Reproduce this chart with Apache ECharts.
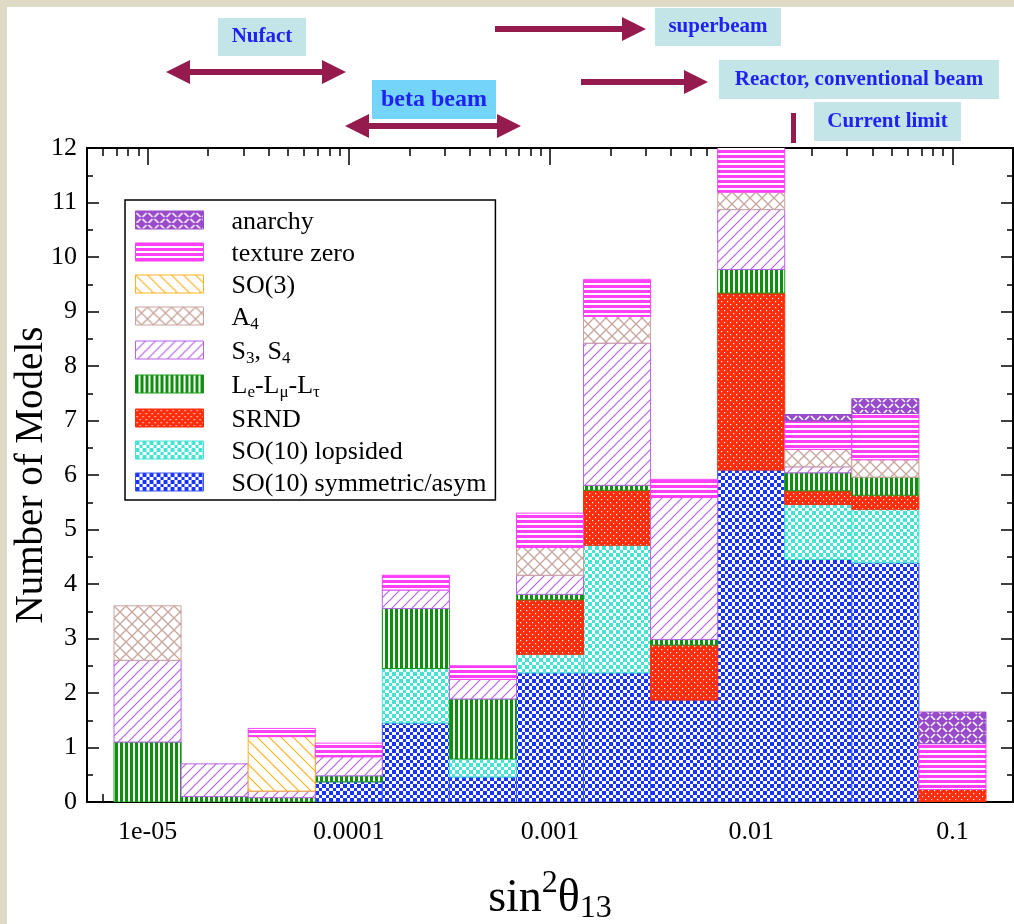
<!DOCTYPE html>
<html>
<head>
<meta charset="utf-8">
<script src="https://cdn.jsdelivr.net/npm/echarts@6/dist/echarts.min.js"></script>
<style>
html, body { margin: 0; padding: 0; background: #fff; }
#chart { width: 1014px; height: 924px; }
</style>
</head>
<body>
<div id="chart"></div>
<script>
// bin centres as log10(sin^2 theta13), each bin is a third of a decade wide
const binCenters = [-15 / 3, -14 / 3, -13 / 3, -12 / 3, -11 / 3, -10 / 3, -9 / 3, -8 / 3, -7 / 3, -6 / 3, -5 / 3, -4 / 3, -3 / 3];
const binHalfWidth = 1 / 6;

// number of models per bin, one array per class (bottom of the stack first)
const so10Sym      = [0, 0, 0, 0.37, 1.45, 0.46, 2.37, 2.37, 1.87, 6.09, 4.45, 4.39, 0];
const so10Lops     = [0, 0, 0, 0, 1.0, 0.33, 0.34, 2.34, 0, 0, 1.01, 0.98, 0];
const srnd         = [0, 0, 0, 0, 0, 0, 1.0, 1.01, 1.01, 3.25, 0.25, 0.26, 0.23];
const leLmuLtau    = [1.1, 0.1, 0.08, 0.11, 1.1, 1.1, 0.1, 0.09, 0.1, 0.43, 0.33, 0.33, 0];
const s3s4         = [1.5, 0.6, 0.12, 0.35, 0.34, 0.36, 0.35, 2.61, 2.61, 1.1, 0.11, 0, 0];
const a4           = [1.0, 0, 0, 0, 0, 0, 0.51, 0.49, 0, 0.32, 0.32, 0.32, 0];
const so3          = [0, 0, 1.0, 0, 0, 0, 0, 0, 0, 0, 0, 0, 0];
const textureZero  = [0, 0, 0.15, 0.25, 0.27, 0.25, 0.63, 0.68, 0.33, 0.85, 0.52, 0.85, 0.84];
const anarchy      = [0, 0, 0, 0, 0, 0, 0, 0, 0, 0, 0.12, 0.27, 0.58];

const xMajorTicks  = [1e-5, 1e-4, 1e-3, 1e-2, 1e-1];
const xMajorLabels = ['1e-05', '0.0001', '0.001', '0.01', '0.1'];
const xMinorTicks = [];
for (let e = -6; e <= -1; e++) {
  for (let m = 2; m <= 9; m++) {
    const v = m * Math.pow(10, e);
    if (v > 5e-6 && v < 0.2) xMinorTicks.push(v);
  }
}

const FONT = '"Liberation Serif", "DejaVu Serif", serif';

// small canvas tiles used as hatch fills
function tile(w, h, draw) {
  const c = document.createElement('canvas');
  c.width = w;
  c.height = h;
  const g = c.getContext('2d');
  g.fillStyle = '#fff';
  g.fillRect(0, 0, w, h);
  draw(g);
  return { image: c, repeat: 'repeat' };
}
function checker(color) {
  const e = [0, 4, 7, 11, 14];
  return tile(14, 14, g => {
    g.fillStyle = color;
    for (let i = 0; i < 4; i++)
      for (let j = 0; j < 4; j++)
        if ((i + j) % 2 === 0) g.fillRect(e[i], e[j], e[i + 1] - e[i], e[j + 1] - e[j]);
  });
}
function diag(color, size, up) {
  return tile(size, size, g => {
    g.strokeStyle = color;
    g.lineWidth = 1.2;
    g.beginPath();
    if (up) {
      g.moveTo(-1, size + 1); g.lineTo(size + 1, -1);
      g.moveTo(-1, 1); g.lineTo(1, -1);
      g.moveTo(size - 1, size + 1); g.lineTo(size + 1, size - 1);
    } else {
      g.moveTo(-1, -1); g.lineTo(size + 1, size + 1);
      g.moveTo(size - 1, -1); g.lineTo(size + 1, 1);
      g.moveTo(-1, size - 1); g.lineTo(1, size + 1);
    }
    g.stroke();
  });
}

const fills = {
  sym: checker('#1733ff'),
  lops: checker('#45e3d3'),
  srnd: tile(6, 6, g => {
    g.fillStyle = '#ff2d0a';
    g.fillRect(0, 0, 6, 6);
    g.fillStyle = '#fff';
    g.fillRect(1, 1, 1.2, 1.2);
    g.fillRect(4, 4, 1.2, 1.2);
  }),
  le: tile(5, 5, g => {
    g.fillStyle = '#0e8f0e';
    g.fillRect(0, 0, 3, 5);
  }),
  s3: diag('#b862ea', 10, true),
  a4: tile(12, 12, g => {
    g.strokeStyle = '#c9a49c';
    g.lineWidth = 1.3;
    g.beginPath();
    g.moveTo(-1, 13); g.lineTo(13, -1);
    g.moveTo(-1, -1); g.lineTo(13, 13);
    g.stroke();
  }),
  so3: diag('#ffb21f', 12, false),
  tz: tile(5, 5, g => {
    g.fillStyle = '#ff3ef8';
    g.fillRect(0, 0, 5, 3);
  }),
  anarchy: tile(12, 12, g => {
    g.fillStyle = '#9a4bcb';
    g.fillRect(0, 0, 12, 12);
    g.strokeStyle = '#fff';
    g.lineWidth = 1.6;
    g.beginPath();
    g.moveTo(1, 2); g.lineTo(5, 6);
    g.moveTo(7, 6); g.lineTo(11, 2);
    g.moveTo(7, 8); g.lineTo(11, 12);
    g.moveTo(1, 12); g.lineTo(5, 8);
    g.stroke();
  })
};

const layers = [
  { name: 'SO(10) symmetric/asym', values: so10Sym, color: '#3a55ff', fill: fills.sym },
  { name: 'SO(10) lopsided', values: so10Lops, color: '#45e3d3', fill: fills.lops },
  { name: 'SRND', values: srnd, color: '#ff2d0a', fill: fills.srnd },
  { name: 'Le-Lmu-Ltau', values: leLmuLtau, color: '#1a9a1a', fill: fills.le },
  { name: 'S3, S4', values: s3s4, color: '#b862ea', fill: fills.s3 },
  { name: 'A4', values: a4, color: '#c9a49c', fill: fills.a4 },
  { name: 'SO(3)', values: so3, color: '#ffb21f', fill: fills.so3 },
  { name: 'texture zero', values: textureZero, color: '#ff3ef8', fill: fills.tz },
  { name: 'anarchy', values: anarchy, color: '#9a4bcb', fill: fills.anarchy }
];

const legendText = {
  'A4': '{n|A}{s|4}',
  'S3, S4': '{n|S}{s|3}{n|, S}{s|4}',
  'Le-Lmu-Ltau': '{n|L}{s|e}{n|-L}{s|\u03bc}{n|-L}{s|\u03c4}'
};

const base = binCenters.map(() => 0);
const series = layers.map(layer => {
  const data = [];
  layer.values.forEach((v, i) => {
    const lo = base[i];
    base[i] += v;
    if (v > 0) {
      data.push([
        Math.pow(10, binCenters[i] - binHalfWidth),
        Math.pow(10, binCenters[i] + binHalfWidth),
        lo,
        base[i]
      ]);
    }
  });
  return {
    type: 'custom',
    name: layer.name,
    xAxisIndex: 0,
    yAxisIndex: 0,
    clip: true,
    encode: { x: [0, 1], y: [2, 3] },
    itemStyle: { color: layer.fill, borderColor: layer.color, borderWidth: 1 },
    renderItem(params, api) {
      const p0 = api.coord([api.value(0), api.value(2)]);
      const p1 = api.coord([api.value(1), api.value(3)]);
      return {
        type: 'rect',
        shape: { x: p0[0], y: p1[1], width: p1[0] - p0[0], height: p0[1] - p1[1] },
        style: { fill: layer.fill, stroke: layer.color, lineWidth: 1 }
      };
    },
    data
  };
});

const axisLine = { lineStyle: { color: '#000', width: 2 } };
const tickStyle = { color: '#000', width: 1.5 };
function logAxis(position, minor, labels) {
  return {
    type: 'log',
    logBase: 10,
    min: 5e-6,
    max: 0.2,
    position,
    axisLine: minor ? { show: false } : axisLine,
    axisTick: {
      inside: true,
      length: minor ? 8 : 17,
      lineStyle: tickStyle,
      customValues: minor ? xMinorTicks : xMajorTicks
    },
    axisLabel: labels ? {
      customValues: xMajorTicks,
      formatter: v => {
        const k = xMajorTicks.findIndex(t => Math.abs(Math.log10(t) - Math.log10(v)) < 1e-6);
        return k >= 0 ? xMajorLabels[k] : '';
      },
      color: '#000',
      fontFamily: FONT,
      fontSize: 26,
      margin: 17
    } : { show: false },
    splitLine: { show: false }
  };
}
function countAxis(position, labels) {
  return {
    type: 'value',
    min: 0,
    max: 12,
    interval: 1,
    position,
    axisLine: Object.assign({ show: true }, axisLine),
    axisTick: { inside: true, length: 12, lineStyle: tickStyle },
    minorTick: { show: true, splitNumber: 2, length: 6, lineStyle: tickStyle },
    axisLabel: labels ? { color: '#000', fontFamily: FONT, fontSize: 26, margin: 10 } : { show: false },
    splitLine: { show: false }
  };
}

const xMain = logAxis('bottom', false, true);
xMain.name = '{n|sin}{p|2}{n|\u03b8}{s|13}';
xMain.nameLocation = 'middle';
xMain.nameGap = 66;
xMain.nameTextStyle = {
  color: '#000',
  rich: {
    n: { fontFamily: FONT, fontSize: 46, color: '#000' },
    p: { fontFamily: FONT, fontSize: 32, color: '#000', padding: [0, 0, 30, 0] },
    s: { fontFamily: FONT, fontSize: 32, color: '#000', padding: [20, 0, 0, 0] }
  }
};
const yMain = countAxis('left', true);
yMain.name = 'Number of Models';
yMain.nameLocation = 'middle';
yMain.nameMoveOverlap = false;
yMain.nameGap = 36;
yMain.nameTextStyle = { color: '#000', fontFamily: FONT, fontSize: 39 };

// header annotations
const MAROON = '#951a4d';
const BOX = '#c4e5e7';
function arrow(x1, x2, y, both) {
  const h = 24, w = 12, t = 3;
  const pts = both
    ? [[x1, y], [x1 + h, y - w], [x1 + h, y - t], [x2 - h, y - t], [x2 - h, y - w], [x2, y],
       [x2 - h, y + w], [x2 - h, y + t], [x1 + h, y + t], [x1 + h, y + w]]
    : [[x1, y - t], [x2 - h, y - t], [x2 - h, y - w], [x2, y], [x2 - h, y + w], [x2 - h, y + t], [x1, y + t]];
  return { type: 'polygon', shape: { points: pts }, style: { fill: MAROON } };
}
function label(x, y, w, h, text, size, bg) {
  return {
    type: 'group',
    children: [
      { type: 'rect', shape: { x, y, width: w, height: h }, style: { fill: bg || BOX } },
      {
        type: 'text', x: x + w / 2, y: y + h / 2,
        style: { text, fill: '#1f22f2', font: 'bold ' + size + 'px ' + FONT, align: 'center', verticalAlign: 'middle' }
      }
    ]
  };
}

const chart = echarts.init(document.getElementById('chart'));
chart.setOption({
  backgroundColor: '#fff',
  animation: false,
  grid: { left: 87, right: 1, top: 148, bottom: 122, outerBoundsMode: 'none', containLabel: false },
  xAxis: [
    xMain,
    logAxis('bottom', true, false),
    logAxis('top', false, false),
    logAxis('top', true, false)
  ],
  yAxis: [yMain, countAxis('right', false)],
  legend: {
    orient: 'vertical',
    left: 125,
    top: 200,
    data: layers.map(l => l.name).reverse(),
    selectedMode: false,
    icon: 'rect',
    itemWidth: 68,
    itemHeight: 18,
    itemGap: 6,
    padding: [9, 9, 3, 10],
    borderColor: '#000',
    borderWidth: 1.5,
    backgroundColor: '#fff',
    itemStyle: { borderWidth: 1 },
    formatter: name => legendText[name] || '{n|' + name + '}',
    textStyle: {
      padding: [0, 0, 0, 23],
      rich: {
        n: { fontFamily: FONT, fontSize: 26, color: '#000', lineHeight: 22, verticalAlign: 'top' },
        s: { fontFamily: FONT, fontSize: 17, color: '#000', lineHeight: 17, padding: [11, 0, 0, 0], verticalAlign: 'top' }
      }
    }
  },
  graphic: [
    { type: 'rect', shape: { x: 0, y: 0, width: 1014, height: 7 }, style: { fill: '#dedac5' } },
    { type: 'rect', shape: { x: 0, y: 0, width: 7, height: 924 }, style: { fill: '#dedac5' } },
    label(218, 18, 88, 38, 'Nufact', 21),
    label(655, 8, 126, 38, 'superbeam', 21),
    label(719, 60, 280, 39, 'Reactor, conventional beam', 21),
    label(372, 80, 124, 39, 'beta beam', 24, '#74d4fa'),
    label(814, 102, 147, 39, 'Current limit', 21),
    arrow(166, 346, 72, true),
    arrow(345, 521, 126, true),
    arrow(495, 646, 29, false),
    arrow(581, 708, 82, false),
    { type: 'rect', shape: { x: 791, y: 113, width: 5, height: 30 }, style: { fill: MAROON } }
  ],
  series
});
</script>
</body>
</html>
